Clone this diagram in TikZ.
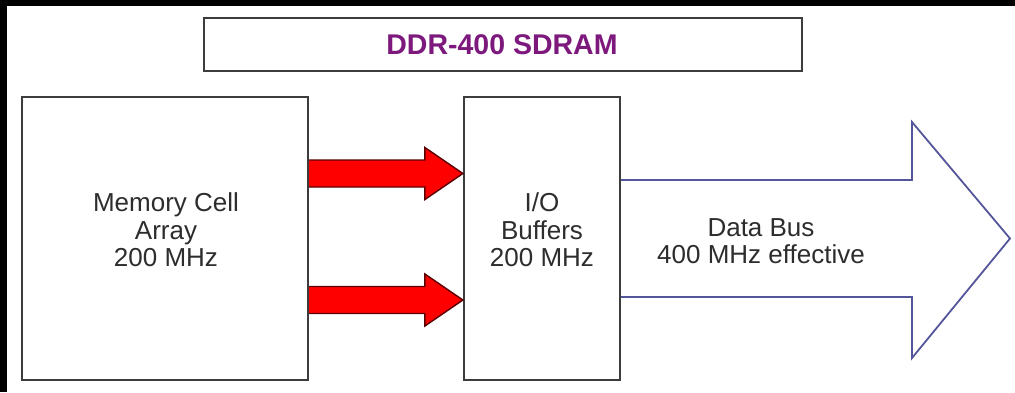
\documentclass[tikz,border=0pt]{standalone}
\usepackage{fontspec}
\setmainfont{Liberation Sans}
\usetikzlibrary{calc}
\definecolor{titlepurple}{RGB}{125,25,125}
\definecolor{boxgray}{RGB}{60,60,60}
\definecolor{txtgray}{RGB}{45,45,45}
\definecolor{arrowred}{RGB}{255,0,0}
\definecolor{arrowdark}{RGB}{90,0,0}
\definecolor{busblue}{RGB}{85,85,155}
\tikzset{
  boxnode/.style={draw=boxgray,line width=2.2pt,fill=white,inner sep=0pt},
  lbl/.style={text=txtgray,font=\fontsize{26}{27.5}\selectfont,align=center,inner sep=0pt},
  redarrow/.style={fill=arrowred,draw=arrowdark,line width=1.4pt,line join=miter},
  busarrow/.style={fill=white,draw=busblue,line width=1.8pt,line join=miter}
}
\begin{document}
\begin{tikzpicture}[x=1pt,y=-1pt]
\useasboundingbox (0,0) rectangle (1015,392);
\fill[black] (0,0) rectangle (1015,392);
\fill[white] (7,6) rectangle (1015,392);
% title
\node[boxnode,minimum width=598pt,minimum height=53pt] (title) at (503,44.5) {};
\node[text=titlepurple,font=\bfseries\fontsize{28.5}{30}\selectfont,inner sep=0pt] (titletxt) at (502,45) {DDR-400 SDRAM};
% boxes
\node[boxnode,minimum width=286pt,minimum height=283pt] (mem) at (165,238.5) {};
\node[boxnode,minimum width=156pt,minimum height=283pt] (io) at (542,238.5) {};
\node[lbl] (memtxt) at (166,230) {Memory Cell\\Array\\200 MHz};
\node[lbl] (iotxt) at (542,230) {I/O\\Buffers\\200 MHz};
% red arrows
\coordinate (a1) at (mem.east |- 0,173.5);
\coordinate (b1) at (io.west |- 0,173.5);
\coordinate (a2) at (mem.east |- 0,300);
\coordinate (b2) at (io.west |- 0,300);
\draw[redarrow] ($(a1)+(0,-13.5)$) -- ($(b1)+(-38,-13.5)$) -- ($(b1)+(-38,-26)$) -- (b1) -- ($(b1)+(-38,26)$) -- ($(b1)+(-38,13.5)$) -- ($(a1)+(0,13.5)$);
\draw[redarrow] ($(a2)+(0,-13.5)$) -- ($(b2)+(-38,-13.5)$) -- ($(b2)+(-38,-26)$) -- (b2) -- ($(b2)+(-38,26)$) -- ($(b2)+(-38,13.5)$) -- ($(a2)+(0,13.5)$);
% bus arrow
\coordinate (bs) at (io.east |- 0,238.5);
\coordinate (tip) at (1010,238.5);
\filldraw[busarrow] ($(bs)+(0,-58.5)$) -- (912,180) -- (912,122) -- (tip) -- (912,358) -- (912,297) -- ($(bs)+(0,58.5)$);
\node[lbl] (bustxt) at (761,241) {Data Bus\\400 MHz effective};
\end{tikzpicture}
\end{document}
